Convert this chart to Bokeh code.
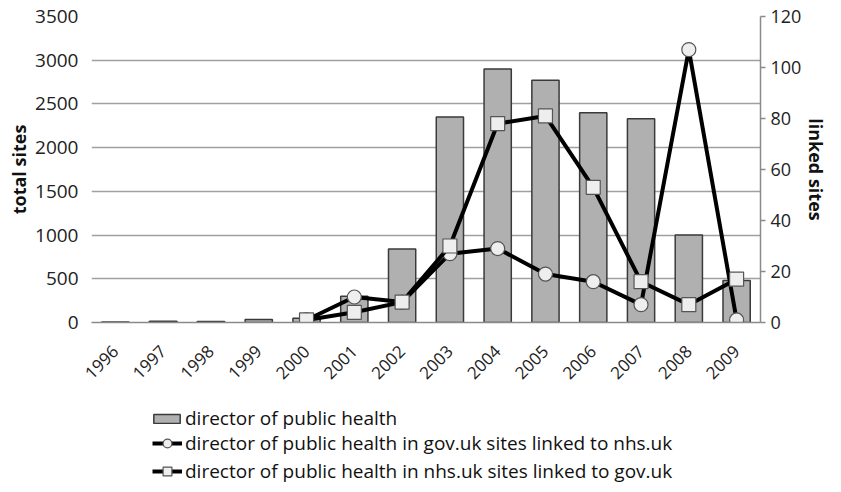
from math import pi, nan
from bokeh.plotting import figure
from bokeh.layouts import column
from bokeh.models import (FactorRange, Range1d, LinearAxis, FixedTicker, Legend,
                          LegendItem, ColumnDataSource)
from bokeh.embed import file_html
from bokeh.resources import INLINE

years = ["1996", "1997", "1998", "1999", "2000", "2001", "2002",
         "2003", "2004", "2005", "2006", "2007", "2008", "2009"]
total_sites = [5, 15, 12, 35, 50, 300, 840, 2350, 2900, 2770, 2400, 2330, 1000, 480]
gov_linked_nhs = [nan, nan, nan, nan, 1, 10, 8, 27, 29, 19, 16, 7, 107, 1]
nhs_linked_gov = [nan, nan, nan, nan, 1, 4, 8, 30, 78, 81, 53, 16, 7, 17]
left_ticks = [0, 500, 1000, 1500, 2000, 2500, 3000, 3500]
right_ticks = [0, 20, 40, 60, 80, 100, 120]
legend_labels = ["director of public health",
                 "director of public health in gov.uk sites linked to nhs.uk",
                 "director of public health in nhs.uk sites linked to gov.uk"]

FONT = "Open Sans"
BAR = dict(fill_color="#b0b0b0", line_color="#3a3a3a", line_width=1.5)
LINE = dict(line_color="black", line_width=4)
MARK = dict(size=14, fill_color="#eeeeee", line_color="#555555", line_width=1.2)

src = ColumnDataSource(dict(years=years, total=total_sites,
                            gov=gov_linked_nhs, nhs=nhs_linked_gov))

W = 833
MAIN_H = 394
LEG_H = 90
FRAME_LEFT = 91
p = figure(width=W, height=MAIN_H, x_range=FactorRange(*years, range_padding=0),
           y_range=Range1d(0, 3500), output_backend="svg", toolbar_location=None,
           min_border_left=FRAME_LEFT, min_border_right=73, min_border_top=16,
           min_border_bottom=MAIN_H - 322)
p.outline_line_color = None
p.extra_y_ranges = {"linked": Range1d(0, 120)}

p.vbar(x="years", top="total", width=0.57, source=src, **BAR)
p.line("years", "gov", source=src, y_range_name="linked", **LINE)
p.scatter("years", "gov", source=src, marker="circle", y_range_name="linked", **MARK)
p.line("years", "nhs", source=src, y_range_name="linked", **LINE)
p.scatter("years", "nhs", source=src, marker="square", y_range_name="linked", **MARK)

# left axis
ya = p.yaxis[0]
ya.ticker = FixedTicker(ticks=left_ticks)
ya.axis_line_color = None
ya.major_tick_line_color = None
ya.major_tick_out = 0
ya.major_tick_in = 0
ya.minor_tick_line_color = None
ya.axis_label = "total sites"
ya.axis_label_text_font = FONT
ya.axis_label_text_font_style = "bold"
ya.axis_label_text_font_size = "18px"
ya.axis_label_text_color = "#111111"
ya.major_label_text_font = FONT
ya.major_label_text_font_size = "19px"
ya.major_label_text_color = "#222222"
ya.major_label_standoff = 13
ya.axis_label_standoff = 1

# right axis
ra = LinearAxis(y_range_name="linked", ticker=FixedTicker(ticks=right_ticks))
ra.axis_line_color = "#8a8a8a"
ra.axis_line_width = 1.5
ra.major_tick_line_color = "#8a8a8a"
ra.major_tick_line_width = 1.5
ra.major_tick_out = 5
ra.major_tick_in = 0
ra.minor_tick_line_color = None
ra.axis_label = "linked sites"
ra.axis_label_text_font = FONT
ra.axis_label_text_font_style = "bold"
ra.axis_label_text_font_size = "18px"
ra.axis_label_text_color = "#111111"
ra.major_label_text_font = FONT
ra.major_label_text_font_size = "18px"
ra.major_label_text_color = "#222222"
ra.major_label_standoff = 5
ra.axis_label_standoff = 0
p.add_layout(ra, "right")

# x axis
xa = p.xaxis[0]
xa.axis_line_color = "#8a8a8a"
xa.axis_line_width = 1.5
xa.major_tick_line_color = None
xa.major_tick_out = 0
xa.minor_tick_line_color = None
xa.major_label_orientation = pi / 4
xa.major_label_text_font = FONT
xa.major_label_text_font_size = "17px"
xa.major_label_text_color = "#222222"
xa.major_label_standoff = 26

p.xgrid.grid_line_color = None
p.ygrid.grid_line_color = "#a0a0a0"
p.ygrid.grid_line_width = 1.5

# legend panel below the chart (proxy renderers are hidden, only the key shows)
lf = figure(width=W, height=LEG_H, x_range=FactorRange(*years),
            y_range=Range1d(-2, -1), output_backend="svg", toolbar_location=None,
            x_axis_location=None, y_axis_location=None,
            min_border=0, outline_line_color=None)
lf.grid.visible = False
rb = lf.vbar(x="years", top="total", width=0.5, source=src, **BAR)
r1l = lf.line("years", "gov", source=src, **LINE)
r1m = lf.scatter("years", "gov", source=src, marker="circle", **MARK)
r2l = lf.line("years", "nhs", source=src, **LINE)
r2m = lf.scatter("years", "nhs", source=src, marker="square", **MARK)
for r in (rb, r1l, r1m, r2l, r2m):
    r.visible = False


def style(lg):
    lg.label_text_font = FONT
    lg.label_text_font_size = "19px"
    lg.label_text_color = "#111111"
    lg.label_height = 22
    lg.padding = 0
    lg.margin = 0
    lg.border_line_alpha = 0
    lg.background_fill_alpha = 0
    lg.click_policy = "none"


leg1 = Legend(items=[LegendItem(label=legend_labels[0], renderers=[rb])],
              location=(150 - FRAME_LEFT, 53))
style(leg1)
leg1.glyph_height = 11
leg1.glyph_width = 33
leg1.label_standoff = 2

leg2 = Legend(items=[
    LegendItem(label=legend_labels[1], renderers=[r1l, r1m]),
    LegendItem(label=legend_labels[2], renderers=[r2l, r2m]),
], location=(152 - FRAME_LEFT, 0))
style(leg2)
leg2.glyph_height = 22
leg2.glyph_width = 30
leg2.label_standoff = 3
leg2.spacing = 2

lf.add_layout(leg1, "center")
lf.add_layout(leg2, "center")

layout = column(p, lf, spacing=0)
open("out.html", "w").write(file_html(layout, INLINE))
